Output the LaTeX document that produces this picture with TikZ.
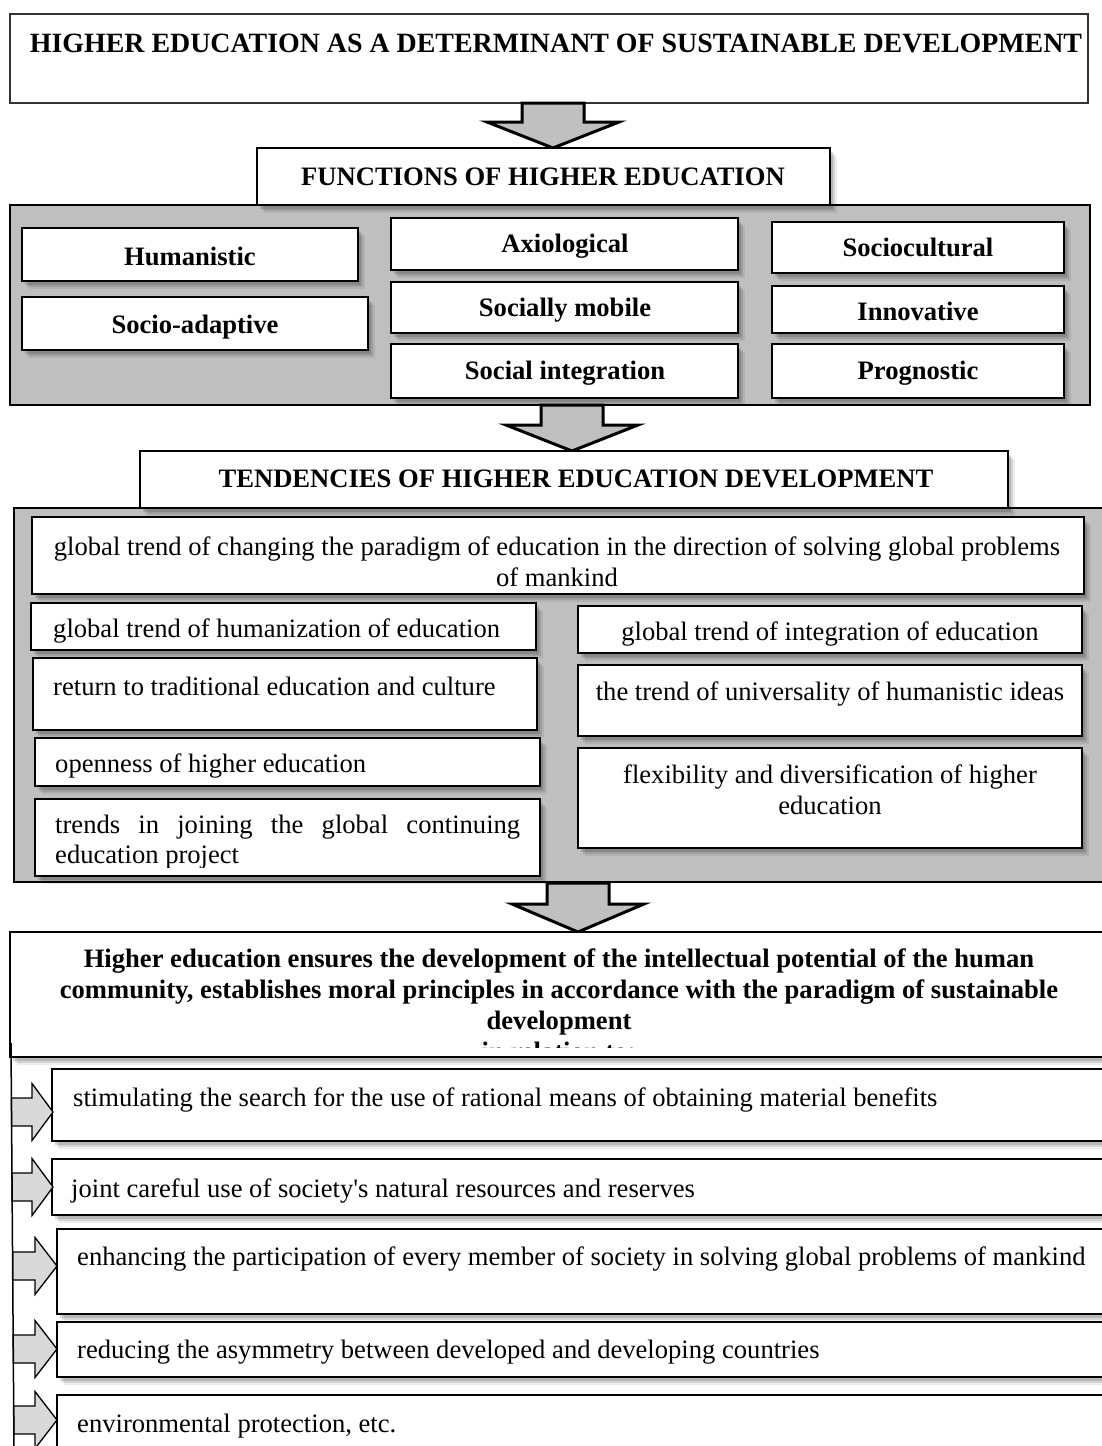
\documentclass[tikz,border=0pt]{standalone}
\usepackage{fontspec}
\setmainfont{Liberation Serif}
\newfontfamily\rawserif{Liberation Serif}
\usetikzlibrary{fit,shadows}
\newcommand\bodyf{\fontsize{26.6}{31}\selectfont}
\newcommand\titlef{\fontsize{27.9}{31}\selectfont}
\definecolor{panelgray}{HTML}{BFBFBF}
\definecolor{arrowgray}{HTML}{C0C0C0}
\definecolor{lightarrow}{HTML}{D9D9D9}
\tikzset{
  wbox/.style={draw=black, line width=1.2pt, fill=white, inner sep=0pt},
  shbox/.style={wbox,
    drop shadow={shadow xshift=7pt, shadow yshift=-8pt, fill=black, opacity=0.07},
    drop shadow={shadow xshift=5pt, shadow yshift=-6pt, fill=black, opacity=0.10},
    drop shadow={shadow xshift=3pt, shadow yshift=-4pt, fill=black, opacity=0.14}},
  panel/.style={draw=black, line width=1.5pt, fill=panelgray, inner sep=0pt},
  bigarrow/.style={draw=black, line width=3pt, fill=arrowgray, line join=miter},
  smallarrow/.style={draw=black, line width=1.3pt, fill=lightarrow, line join=miter},
  txt/.style={inner sep=0pt, font=\bodyf},
  btxt/.style={inner sep=0pt, font=\bodyf\bfseries},
}
\newcommand\bigarr[4]{\draw[bigarrow] ({#1-31},#2) -- ({#1+31},#2) -- ({#1+31},#3) -- ({#1+66},#3) -- (#1,#4) -- ({#1-66},#3) -- ({#1-31},#3) -- cycle;}
\newcommand\smallarr[4]{\draw[smallarrow] (#1,{#4-14}) -- (#2,{#4-14}) -- (#2,{#4-28.5}) -- (#3,#4) -- (#2,{#4+28.5}) -- (#2,{#4+14}) -- (#1,{#4+14}) -- cycle;}
\begin{document}
\begin{tikzpicture}[x=1pt,y=-1pt]
\useasboundingbox (0,0) rectangle (1102,1446);
\clip (0,0) rectangle (1102,1446);
\fill[white] (0,0) rectangle (1102,1446);

% ---------- title ----------
\node[wbox, draw=black!80, fit={(10,14) (1088,103)}] (title) {};
\node[inner sep=0pt, font=\titlef\bfseries, anchor=base] (titlet) at (556,52) {HIGHER EDUCATION AS A DETERMINANT OF SUSTAINABLE DEVELOPMENT};
\bigarr{553}{103}{122}{148}

% ---------- functions ----------
\node[panel, fit={(10,205) (1090,405)}] (fpanel) {};
\node[shbox, fit={(257,148) (830,205)}] (fhead) {};
\node[btxt, anchor=base] (fheadt) at (543,185) {FUNCTIONS OF HIGHER EDUCATION};

\node[shbox, fit={(22,228) (358,281)}] (hum) {};
\node[btxt, anchor=base] (humt) at (190,265) {Humanistic};
\node[shbox, fit={(22,297) (368,350)}] (sad) {};
\node[btxt, anchor=base] (sadt) at (195,333) {Socio-adaptive};

\node[shbox, fit={(391,218) (738,270)}] (axi) {};
\node[btxt, anchor=base] (axit) at (565,252) {Axiological};
\node[shbox, fit={(391,282) (738,333)}] (smo) {};
\node[btxt, anchor=base] (smot) at (565,316) {Socially mobile};
\node[shbox, fit={(391,344) (738,398)}] (sin) {};
\node[btxt, anchor=base] (sint) at (565,379) {Social integration};

\node[shbox, fit={(772,222) (1064,273)}] (soc) {};
\node[btxt, anchor=base] (soct) at (918,256) {Sociocultural};
\node[shbox, fit={(772,286) (1064,333)}] (inn) {};
\node[btxt, anchor=base] (innt) at (918,320) {Innovative};
\node[shbox, fit={(772,344) (1064,398)}] (pro) {};
\node[btxt, anchor=base] (prot) at (918,379) {Prognostic};

\bigarr{572}{405}{425}{451}

% ---------- tendencies ----------
\node[panel, fit={(14,508) (1130,882)}] (tpanel) {};
\node[shbox, fit={(140,451) (1008,508)}] (thead) {};
\node[btxt, anchor=base] (theadt) at (576,487) {TENDENCIES OF HIGHER EDUCATION DEVELOPMENT};

\node[shbox, fit={(32,517) (1084,594)}] (t0) {};
\node[txt, anchor=base] (t0a) at (557,555) {global trend of changing the paradigm of education in the direction of solving global problems};
\node[txt, anchor=base] (t0b) at (557,586) {of mankind};

\node[shbox, fit={(31,603) (536,650)}] (t1) {};
\node[txt, anchor=base west] (t1t) at (53,637) {global trend of humanization of education};
\node[shbox, fit={(33,658) (537,730)}] (t2) {};
\node[txt, anchor=base west] (t2t) at (53,695) {return to traditional education and culture};
\node[shbox, fit={(35,738) (540,786)}] (t3) {};
\node[txt, anchor=base west] (t3t) at (55,772) {openness of higher education};
\node[shbox, fit={(35,799) (540,876)}] (t4) {};
\begin{scope}
\clip (35,799) rectangle (540,867);
\node[txt, anchor=base west] (t4a) at (55,833) {\hbox to 465pt{trends\hfill in\hfill joining\hfill the\hfill global\hfill continuing}};
\node[txt, anchor=base west] (t4b) at (55,863) {education project};
\end{scope}

\node[shbox, fit={(578,606) (1082,653)}] (r1) {};
\node[txt, anchor=base] (r1t) at (830,640) {global trend of integration of education};
\node[shbox, fit={(578,665) (1082,736)}] (r2) {};
\node[txt, anchor=base] (r2t) at (830,700) {the trend of universality of humanistic ideas};
\node[shbox, fit={(578,748) (1082,848)}] (r3) {};
\node[txt, anchor=base] (r3a) at (830,783) {flexibility and diversification of higher};
\node[txt, anchor=base] (r3b) at (830,814) {education};

\bigarr{578}{883}{904}{932}

% ---------- bottom ----------
\node[shbox, fit={(10,932) (1130,1057)}] (hb) {};
\begin{scope}
\clip (10,932) rectangle (1102,1047);
\node[btxt, anchor=base] (hb1) at (559,967) {Higher education ensures the development of the intellectual potential of the human};
\node[btxt, anchor=base] (hb2) at (559,998) {community, establishes moral principles in accordance with the paradigm of sustainable};
\node[btxt, anchor=base] (hb3) at (559,1029) {development};
\node[btxt, anchor=base] (hb4) at (559,1060) {in relation to:};
\end{scope}

\node[shbox, fit={(52,1069) (1130,1141)}] (b1) {};
\node[txt, anchor=base west] (b1t) at (73,1106) {stimulating the search for the use of rational means of obtaining material benefits};
\node[shbox, fit={(52,1159) (1130,1215)}] (b2) {};
\node[txt, anchor=base west] (b2t) at (71,1197) {joint careful use of society{\rawserif'}s natural resources and reserves};
\node[shbox, fit={(57,1229) (1130,1314)}] (b3) {};
\node[txt, anchor=base west] (b3t) at (77,1265) {enhancing the participation of every member of society in solving global problems of mankind};
\node[shbox, fit={(57,1322) (1130,1377)}] (b4) {};
\node[txt, anchor=base west] (b4t) at (77,1358) {reducing the asymmetry between developed and developing countries};
\node[shbox, fit={(57,1395) (1130,1490)}] (b5) {};
\node[txt, anchor=base west] (b5t) at (77,1432) {environmental protection, etc.};

\smallarr{11.5}{32}{53}{1112}
\smallarr{12}{32}{53}{1187}
\smallarr{12.7}{35}{57}{1266}
\smallarr{13.3}{35}{57}{1349}
\smallarr{13.8}{35}{57}{1420}
\coordinate (vtop) at (11,1043);
\coordinate (vbot) at (14,1450);
\draw[line width=1.5pt] (vtop) -- (vbot);
\end{tikzpicture}
\end{document}
